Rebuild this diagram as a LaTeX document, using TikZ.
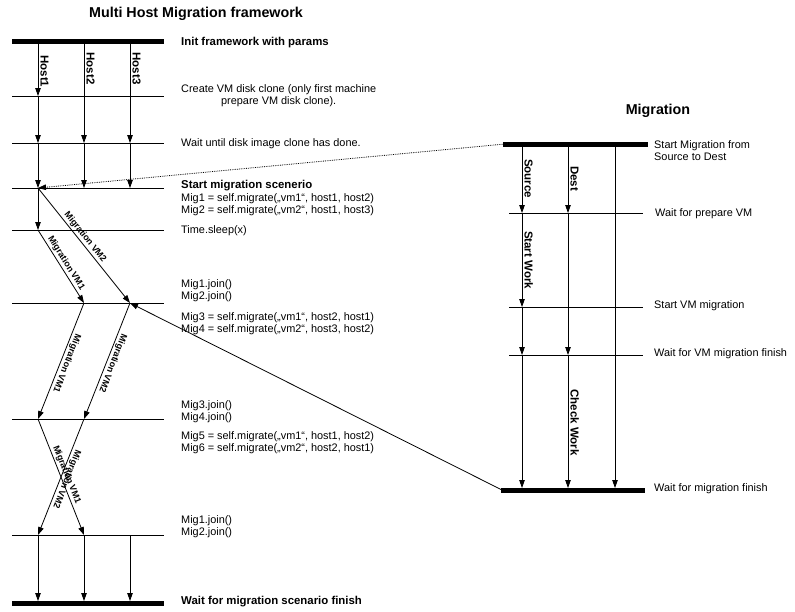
\documentclass[tikz,border=0pt]{standalone}
\usepackage{fontspec}
\setmainfont{Liberation Sans}
\usetikzlibrary{arrows.meta}

\begin{document}
\begin{tikzpicture}[x=1pt, y=-1pt,
            arr/.style={-{Triangle[length=8pt,width=5.5pt]}, line width=0.8pt},
            bar/.style={line width=5pt},
            sep/.style={line width=0.7pt},
            txt/.style={anchor=west, inner sep=0pt, align=left, font=\fontsize{10.9}{12.2}\selectfont},
            btxt/.style={anchor=west, inner sep=0pt, font=\fontsize{11.4}{13}\selectfont\bfseries},
            ttl/.style={inner sep=0pt, font=\fontsize{14.3}{16}\selectfont\bfseries},
            lbl/.style={sloped, allow upside down, above, inner sep=2pt, font=\fontsize{11.5}{12}\selectfont\bfseries},
            mig/.style={sloped, allow upside down, above, inner sep=1.5pt, font=\fontsize{9}{10}\selectfont\bfseries}]
            \useasboundingbox (0,0) rectangle (795,611);

            % left frame: hosts
            \node[ttl] (title1) at (196,14) {Multi Host Migration framework};
            \draw[bar] (12,41) -- (164,41);
            \foreach \y in {96,143,188,230,303,419,535}
                \draw[sep] (12,\y) -- (164,\y);
            \draw[bar] (12,603) -- (164,603);
            \foreach \l/\x in {A/38,B/84,C/130}
                \foreach \r/\y in {0/41,1/96,2/143,3/188,4/230,5/303,6/419,7/535,8/603}
                    \coordinate (\l\r) at (\x,\y);

            \draw[arr] (A0) -- node[lbl, pos=0.55] {Host1} (A1);
            \draw[arr] (A1) -- (A2);
            \draw[arr] (A2) -- (A3);
            \draw[arr] (A3) -- (A4);
            \draw[arr] (B0) -- node[lbl, pos=0.27] {Host2} (B2);
            \draw[arr] (B2) -- (B3);
            \draw[arr] (C0) -- node[lbl, pos=0.27] {Host3} (C2);
            \draw[arr] (C2) -- (C3);
            \draw[arr] (A3) -- node[mig, pos=0.46] {Migration VM2} (C5);
            \draw[arr] (A4) -- node[mig] {Migration VM1} (B5);
            \draw[arr] (B5) -- node[mig] {Migration VM1} (A6);
            \draw[arr] (C5) -- node[mig] {Migration VM2} (B6);
            \draw[arr] (A6) -- node[mig] {Migration VM1} (B7);
            \draw[arr] (B6) -- node[mig] {Migration VM2} (A7);
            \foreach \l in {A,B,C}
                \draw[arr, shorten >=2pt] (\l7) -- (\l8);

            \node[btxt] (init) at (181,43) {Init framework with params};
            \node[txt, align=center] (clone) at (181,95.5) {Create VM disk clone (only first machine\\prepare VM disk clone).};
            \node[txt] (wait) at (181,144) {Wait until disk image clone has done.};
            \node[btxt] (start) at (181,186) {Start migration scenerio};
            \node[txt] (mig12) at (181,205) {Mig1 = self.migrate(„vm1“, host1, host2)\\Mig2 = self.migrate(„vm2“, host1, host3)};
            \node[txt] (sleep) at (181,231) {Time.sleep(x)};
            \node[txt] (join12) at (181,291) {Mig1.join()\\Mig2.join()};
            \node[txt] (mig34) at (181,324) {Mig3 = self.migrate(„vm1“, host2, host1)\\Mig4 = self.migrate(„vm2“, host3, host2)};
            \node[txt] (join34) at (181,411.5) {Mig3.join()\\Mig4.join()};
            \node[txt] (mig56) at (181,443) {Mig5 = self.migrate(„vm1“, host1, host2)\\Mig6 = self.migrate(„vm2“, host2, host1)};
            \node[txt] (join12b) at (181,526.5) {Mig1.join()\\Mig2.join()};
            \node[btxt] (finish) at (181,602) {Wait for migration scenario finish};

            % right frame: one migration
            \node[ttl] (title2) at (658,111) {Migration};
            \draw[bar] (503,144) -- (648,144);
            \foreach \y in {213,307,355}
                \draw[sep] (509,\y) -- (643,\y);
            \draw[bar] (501,490) -- (645,490);
            \foreach \l/\x in {S/522,D/568,T/615}
                \foreach \r/\y in {0/144,1/213,2/307,3/355,4/490}
                    \coordinate (\l\r) at (\x,\y);
            \coordinate (mtop) at (505,144);
            \coordinate (mbot) at (502,490);

            \draw[arr] (S0) -- node[lbl] {Source} (S1);
            \draw[arr] (S1) -- node[lbl] {Start Work} (S2);
            \draw[arr] (S2) -- (S3);
            \draw[arr, shorten >=2pt] (S3) -- (S4);
            \draw[arr] (D0) -- node[lbl] {Dest} (D1);
            \draw[arr] (D1) -- (D3);
            \draw[arr, shorten >=2pt] (D3) -- node[lbl] {Check Work} (D4);
            \draw[arr, shorten >=2pt] (T0) -- (T4);

            \node[txt] (smig) at (654,150.5) {Start Migration from\\Source to Dest};
            \node[txt] (prep) at (655,214) {Wait for prepare VM};
            \node[txt] (svm) at (654,306) {Start VM migration};
            \node[txt] (wvm) at (654,354) {Wait for VM migration finish};
            \node[txt] (wmig) at (654,489) {Wait for migration finish};

            % links between the frames
            \draw[arr, densely dotted] (mtop) -- (A3);
            \draw[arr] (mbot) -- (C5);
        \end{tikzpicture}
\end{document}
